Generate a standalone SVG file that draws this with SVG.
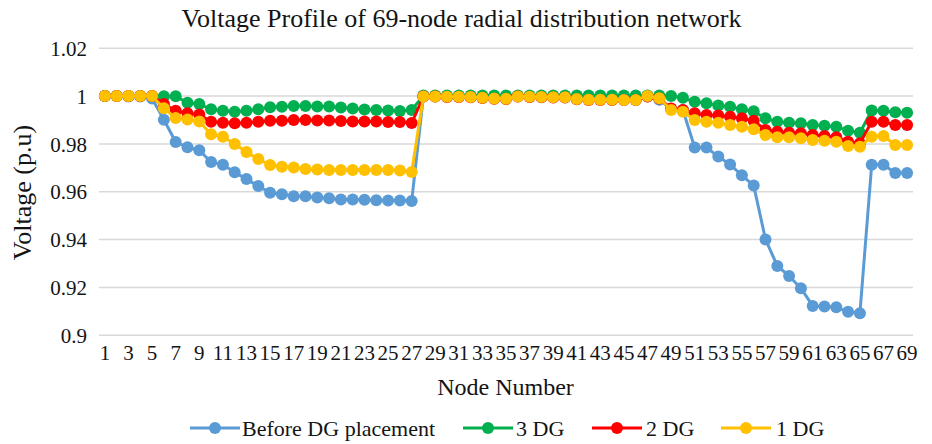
<svg xmlns="http://www.w3.org/2000/svg" width="932" height="444" viewBox="0 0 932 444">
  <style>
    text { font-family: "Liberation Serif", "Times New Roman", serif; fill: #141414; }
    .title { font-size: 26px; }
    .axis-title { font-size: 26px; }
    .tick { font-size: 21px; }
    .legend { font-size: 22px; }
    .grid line { stroke: #d9d9d9; stroke-width: 1.5; }
    .series { fill: none; stroke-width: 3; stroke-linejoin: round; }
    #s-before { stroke: #5b9bd5; marker-start: url(#dot-blue); marker-mid: url(#dot-blue); marker-end: url(#dot-blue); }
    #s-3dg { stroke: #00b050; marker-start: url(#dot-green); marker-mid: url(#dot-green); marker-end: url(#dot-green); }
    #s-2dg { stroke: #ff0000; marker-start: url(#dot-red); marker-mid: url(#dot-red); marker-end: url(#dot-red); }
    #s-1dg { stroke: #ffc000; marker-start: url(#dot-yellow); marker-mid: url(#dot-yellow); marker-end: url(#dot-yellow); }
    .key { fill: none; stroke-width: 3; }
  </style>
  <defs>
    <marker id="dot-blue" markerUnits="userSpaceOnUse" markerWidth="14" markerHeight="14" refX="7" refY="7" overflow="visible">
      <circle cx="7" cy="7" r="6" fill="#5b9bd5"/>
    </marker>
    <marker id="dot-green" markerUnits="userSpaceOnUse" markerWidth="14" markerHeight="14" refX="7" refY="7" overflow="visible">
      <circle cx="7" cy="7" r="6" fill="#00b050"/>
    </marker>
    <marker id="dot-red" markerUnits="userSpaceOnUse" markerWidth="14" markerHeight="14" refX="7" refY="7" overflow="visible">
      <circle cx="7" cy="7" r="6" fill="#ff0000"/>
    </marker>
    <marker id="dot-yellow" markerUnits="userSpaceOnUse" markerWidth="14" markerHeight="14" refX="7" refY="7" overflow="visible">
      <circle cx="7" cy="7" r="6" fill="#ffc000"/>
    </marker>
  </defs>

  <rect width="932" height="444" fill="#ffffff"/>

  <text class="title" x="461.5" y="27" text-anchor="middle">Voltage Profile of 69-node radial distribution network</text>

  <!-- horizontal gridlines -->
  <g class="grid">
    <line x1="99" y1="48.3" x2="913" y2="48.3"/>
    <line x1="99" y1="96.1" x2="913" y2="96.1"/>
    <line x1="99" y1="144.0" x2="913" y2="144.0"/>
    <line x1="99" y1="191.8" x2="913" y2="191.8"/>
    <line x1="99" y1="239.6" x2="913" y2="239.6"/>
    <line x1="99" y1="287.5" x2="913" y2="287.5"/>
    <line x1="99" y1="335.3" x2="913" y2="335.3"/>
  </g>

  <!-- value axis -->
  <g id="y-axis" class="tick" text-anchor="end">
    <text x="87" y="55.8">1.02</text>
    <text x="87" y="103.6">1</text>
    <text x="87" y="151.5">0.98</text>
    <text x="87" y="199.3">0.96</text>
    <text x="87" y="247.1">0.94</text>
    <text x="87" y="295.0">0.92</text>
    <text x="87" y="342.8">0.9</text>
  </g>
  <text class="axis-title" transform="translate(31 192.5) rotate(-90)" text-anchor="middle">Voltage (p.u)</text>

  <!-- category axis -->
  <g id="x-axis" class="tick" text-anchor="middle">
    <text x="104.9" y="360">1</text>
    <text x="128.5" y="360">3</text>
    <text x="152.1" y="360">5</text>
    <text x="175.7" y="360">7</text>
    <text x="199.3" y="360">9</text>
    <text x="222.9" y="360">11</text>
    <text x="246.5" y="360">13</text>
    <text x="270.1" y="360">15</text>
    <text x="293.7" y="360">17</text>
    <text x="317.3" y="360">19</text>
    <text x="340.9" y="360">21</text>
    <text x="364.5" y="360">23</text>
    <text x="388.1" y="360">25</text>
    <text x="411.7" y="360">27</text>
    <text x="435.2" y="360">29</text>
    <text x="458.8" y="360">31</text>
    <text x="482.4" y="360">33</text>
    <text x="506.0" y="360">35</text>
    <text x="529.6" y="360">37</text>
    <text x="553.2" y="360">39</text>
    <text x="576.8" y="360">41</text>
    <text x="600.3" y="360">43</text>
    <text x="623.9" y="360">45</text>
    <text x="647.5" y="360">47</text>
    <text x="671.1" y="360">49</text>
    <text x="694.7" y="360">51</text>
    <text x="718.3" y="360">53</text>
    <text x="741.9" y="360">55</text>
    <text x="765.5" y="360">57</text>
    <text x="789.1" y="360">59</text>
    <text x="812.7" y="360">61</text>
    <text x="836.3" y="360">63</text>
    <text x="859.9" y="360">65</text>
    <text x="883.5" y="360">67</text>
    <text x="907.1" y="360">69</text>
  </g>
  <text x="505.5" y="395" text-anchor="middle" style="font-size:24px">Node Number</text>

  <!-- data series -->
  <g id="series">
    <polyline id="s-before" class="series" points="104.9,96.1 116.7,96.1 128.5,96.4 140.3,96.6 152.1,98.5 163.9,119.8 175.7,142.0 187.5,147.3 199.3,150.2 211.1,162.1 222.9,164.7 234.7,172.2 246.5,179.1 258.3,186.0 270.1,192.7 281.9,194.2 293.7,196.3 305.5,196.3 317.3,197.5 329.1,198.2 340.9,199.4 352.7,199.4 364.5,199.7 376.3,200.2 388.1,200.6 399.9,200.6 411.7,200.9 423.4,96.4 435.2,96.4 447.0,96.8 458.8,96.8 470.6,97.1 482.4,97.8 494.2,98.5 506.0,98.8 517.8,96.4 529.6,96.8 541.4,97.1 553.2,97.3 565.0,97.3 576.8,99.0 588.6,99.7 600.3,99.7 612.1,99.7 623.9,99.9 635.7,99.9 647.5,96.6 659.3,99.7 671.1,108.8 682.9,110.0 694.7,147.5 706.5,147.5 718.3,156.6 730.1,164.5 741.9,175.3 753.7,185.6 765.5,239.4 777.3,265.9 789.1,276.0 800.9,288.2 812.7,305.9 824.5,306.4 836.3,307.3 848.1,311.8 859.9,313.3 871.7,164.7 883.5,164.7 895.3,172.9 907.1,172.9"/>
    <polyline id="s-3dg" class="series" points="104.9,96.1 116.7,96.1 128.5,96.1 140.3,96.1 152.1,96.1 163.9,96.2 175.7,96.3 187.5,102.7 199.3,104.0 211.1,109.3 222.9,110.7 234.7,111.7 246.5,110.7 258.3,109.3 270.1,107.3 281.9,106.7 293.7,106.0 305.5,106.0 317.3,106.5 329.1,106.5 340.9,107.5 352.7,108.5 364.5,109.5 376.3,110.0 388.1,110.5 399.9,111.0 411.7,110.0 423.4,95.6 435.2,95.6 447.0,95.6 458.8,95.6 470.6,95.6 482.4,95.6 494.2,95.6 506.0,95.6 517.8,95.6 529.6,95.6 541.4,95.6 553.2,95.6 565.0,95.6 576.8,95.6 588.6,95.6 600.3,95.6 612.1,95.6 623.9,95.6 635.7,95.6 647.5,95.6 659.3,95.6 671.1,96.1 682.9,97.8 694.7,101.7 706.5,103.3 718.3,105.5 730.1,106.7 741.9,109.3 753.7,111.3 765.5,118.3 777.3,121.7 789.1,122.7 800.9,123.3 812.7,125.0 824.5,125.7 836.3,126.7 848.1,130.7 859.9,132.7 871.7,110.5 883.5,110.7 895.3,112.3 907.1,112.7"/>
    <polyline id="s-2dg" class="series" points="104.9,96.1 116.7,96.1 128.5,96.1 140.3,96.1 152.1,96.1 163.9,104.0 175.7,110.7 187.5,113.3 199.3,114.5 211.1,121.7 222.9,122.7 234.7,123.3 246.5,122.7 258.3,121.7 270.1,120.7 281.9,120.7 293.7,120.0 305.5,120.0 317.3,120.5 329.1,120.5 340.9,121.0 352.7,121.5 364.5,121.5 376.3,121.5 388.1,122.0 399.9,122.0 411.7,123.0 423.4,96.6 435.2,96.6 447.0,97.0 458.8,97.0 470.6,97.3 482.4,98.0 494.2,98.7 506.0,99.0 517.8,96.6 529.6,97.0 541.4,97.3 553.2,97.5 565.0,97.5 576.8,99.2 588.6,99.9 600.3,99.9 612.1,99.9 623.9,100.1 635.7,100.1 647.5,96.4 659.3,98.5 671.1,108.5 682.9,110.0 694.7,113.3 706.5,115.0 718.3,115.5 730.1,116.7 741.9,118.3 753.7,120.7 765.5,130.0 777.3,131.7 789.1,132.7 800.9,133.3 812.7,135.0 824.5,136.0 836.3,137.3 848.1,141.7 859.9,143.3 871.7,121.7 883.5,121.7 895.3,125.0 907.1,125.0"/>
    <polyline id="s-1dg" class="series" points="104.9,96.1 116.7,96.1 128.5,96.1 140.3,96.1 152.1,96.1 163.9,108.3 175.7,118.0 187.5,119.5 199.3,121.5 211.1,134.3 222.9,136.7 234.7,144.0 246.5,152.0 258.3,159.0 270.1,165.0 281.9,166.7 293.7,167.5 305.5,169.0 317.3,169.5 329.1,170.0 340.9,170.0 352.7,170.0 364.5,170.0 376.3,170.0 388.1,170.0 399.9,170.5 411.7,172.0 423.4,96.4 435.2,96.4 447.0,96.8 458.8,96.8 470.6,97.1 482.4,97.8 494.2,98.5 506.0,98.8 517.8,96.4 529.6,96.8 541.4,97.1 553.2,97.3 565.0,97.3 576.8,99.0 588.6,99.7 600.3,99.7 612.1,99.7 623.9,99.9 635.7,99.9 647.5,96.1 659.3,98.3 671.1,110.0 682.9,111.7 694.7,120.0 706.5,121.7 718.3,122.7 730.1,125.0 741.9,126.7 753.7,129.3 765.5,135.0 777.3,137.3 789.1,137.3 800.9,138.3 812.7,140.0 824.5,140.7 836.3,141.7 848.1,146.0 859.9,146.7 871.7,136.7 883.5,136.0 895.3,145.0 907.1,145.0"/>
  </g>

  <!-- legend -->
  <g id="legend" class="legend">
    <g id="key-before">
      <polyline class="key" stroke="#5b9bd5" marker-mid="url(#dot-blue)" points="190,428 215,428 240,428"/>
      <text x="242" y="436">Before DG placement</text>
    </g>
    <g id="key-3dg">
      <polyline class="key" stroke="#00b050" marker-mid="url(#dot-green)" points="463,428 488,428 513,428"/>
      <text x="516" y="436">3 DG</text>
    </g>
    <g id="key-2dg">
      <polyline class="key" stroke="#ff0000" marker-mid="url(#dot-red)" points="592,428 617,428 642,428"/>
      <text x="646" y="436">2 DG</text>
    </g>
    <g id="key-1dg">
      <polyline class="key" stroke="#ffc000" marker-mid="url(#dot-yellow)" points="721,428 746,428 771,428"/>
      <text x="776" y="436">1 DG</text>
    </g>
  </g>
</svg>
